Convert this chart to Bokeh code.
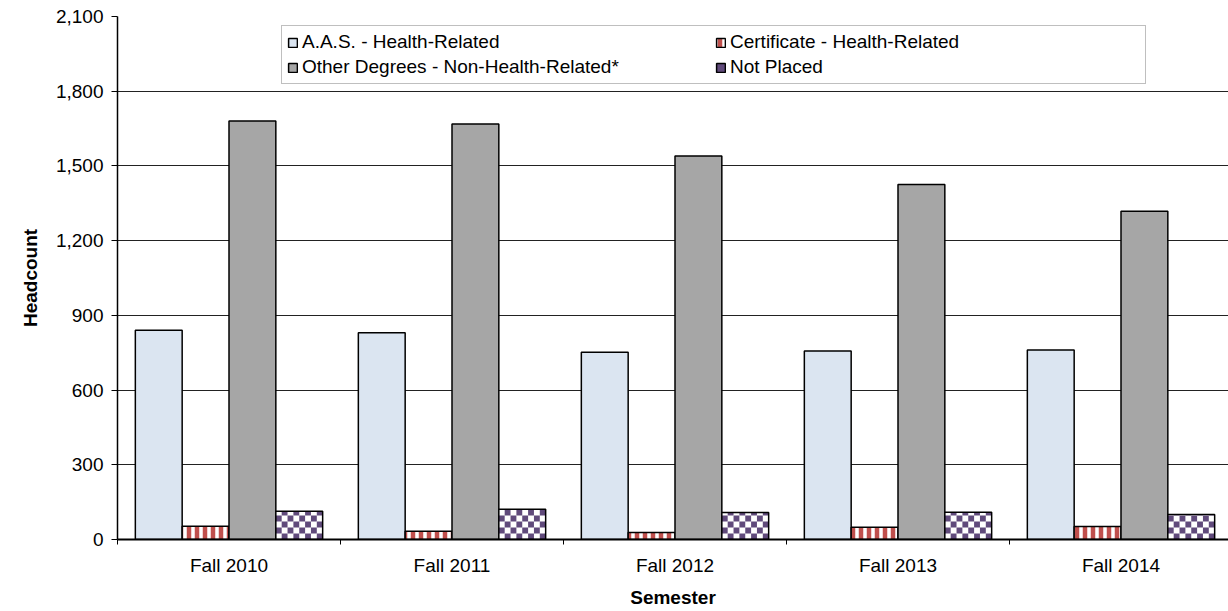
from bokeh.plotting import figure
from bokeh.models import (Range1d, FixedTicker, NumeralTickFormatter, Legend,
                          LegendItem, ColumnDataSource)
from bokeh.transform import dodge
from bokeh.embed import file_html
from bokeh.resources import INLINE

# ---- data ----
semesters = ["Fall 2010", "Fall 2011", "Fall 2012", "Fall 2013", "Fall 2014"]
aas_health = [840, 830, 752, 757, 761]
cert_health = [53, 33, 28, 49, 52]
other_non_health = [1680, 1668, 1540, 1425, 1318]
not_placed = [113, 121, 108, 109, 100]
y_ticks = [0, 300, 600, 900, 1200, 1500, 1800, 2100]
series_labels = ["A.A.S. - Health-Related", "Certificate - Health-Related",
                 "Other Degrees - Non-Health-Related*", "Not Placed"]

FONT = "Liberation Sans"
FS = "19px"

W, H = 1228, 611
LEFT, TOP, BOTTOM = 117, 16, 72
CAT_PX = 223
frame_w = W - LEFT
frame_h = H - TOP - BOTTOM
YMAX = 2100

centers = [i + 0.5 for i in range(len(semesters))]
src = ColumnDataSource(dict(x=centers, aas=aas_health, cert=cert_health,
                            other=other_non_health, np=not_placed))

p = figure(width=W, height=H, output_backend="svg", toolbar_location=None,
           x_range=Range1d(0, frame_w / CAT_PX), y_range=Range1d(0, YMAX),
           min_border_left=LEFT, min_border_right=0, min_border_top=TOP,
           min_border_bottom=BOTTOM)
p.outline_line_color = None
p.background_fill_color = "white"
p.border_fill_color = "white"

bw = 0.21

r1 = p.vbar(x=dodge("x", -1.5 * bw, range=p.x_range), top="aas", width=bw, source=src,
            fill_color="#DBE5F1", line_color="black", line_width=1.5)
r2 = p.vbar(x=dodge("x", -0.5 * bw, range=p.x_range), top="cert", width=bw, source=src,
            fill_color="white", line_color="black", line_width=1.5,
            hatch_pattern="vertical_line", hatch_color="#C0504D", hatch_scale=8,
            hatch_weight=4.5)
r3 = p.vbar(x=dodge("x", 0.5 * bw, range=p.x_range), top="other", width=bw, source=src,
            fill_color="#A6A6A6", line_color="black", line_width=1.5)

# "Not Placed": white bar with a purple checkerboard fill (cells of ~6 px)
r4 = p.vbar(x=dodge("x", 1.5 * bw, range=p.x_range), top="np", width=bw, source=src,
            fill_color="white", line_color=None)
ncell = 8
cx = bw / ncell
cy = 6 * YMAX / frame_h
ql, qr, qb, qt = [], [], [], []
for c, v in zip(centers, not_placed):
    x0 = c + 1.5 * bw - bw / 2
    row = 0
    while row * cy < v:
        for k in range(ncell):
            if (k + row) % 2 == 1:
                ql.append(x0 + k * cx)
                qr.append(x0 + (k + 1) * cx)
                qb.append(row * cy)
                qt.append(min((row + 1) * cy, v))
        row += 1
r4q = p.quad(left=ql, right=qr, bottom=qb, top=qt, fill_color="#604A7B", line_color=None)
r4o = p.vbar(x=dodge("x", 1.5 * bw, range=p.x_range), top="np", width=bw, source=src,
             fill_color=None, line_color="black", line_width=1.5)

# axes
xa = p.xaxis[0]
xa.ticker = FixedTicker(ticks=centers, minor_ticks=list(range(len(semesters) + 1)))
xa.major_label_overrides = {c: s for c, s in zip(centers, semesters)}
xa.major_tick_line_color = None
xa.minor_tick_out = 5
xa.minor_tick_in = 0
xa.minor_tick_line_color = "black"
xa.axis_line_color = "black"
xa.axis_line_width = 2
xa.major_label_standoff = 9
xa.axis_label = "Semester"
xa.axis_label_standoff = 8

ya = p.yaxis[0]
ya.ticker = FixedTicker(ticks=y_ticks)
ya.formatter = NumeralTickFormatter(format="0,0")
ya.major_tick_out = 6
ya.major_tick_in = 0
ya.minor_tick_line_color = None
ya.major_tick_line_color = "black"
ya.axis_line_color = "black"
ya.axis_line_width = 1.5
ya.major_label_standoff = 8
ya.axis_label = "Headcount"
ya.axis_label_standoff = 12

for ax in (xa, ya):
    ax.major_label_text_font = FONT
    ax.major_label_text_font_size = FS
    ax.major_label_text_color = "black"
    ax.axis_label_text_font = FONT
    ax.axis_label_text_font_size = FS
    ax.axis_label_text_font_style = "bold"
    ax.axis_label_text_color = "black"

p.xgrid.grid_line_color = None
p.ygrid.ticker = FixedTicker(ticks=y_ticks)
p.ygrid.grid_line_color = "#222222"
p.ygrid.grid_line_width = 1

# legend items ordered column-wise so rows read: A.A.S. | Certificate, Other | Not Placed
items = [LegendItem(label=series_labels[0], renderers=[r1]),
         LegendItem(label=series_labels[2], renderers=[r3]),
         LegendItem(label=series_labels[1], renderers=[r2]),
         LegendItem(label=series_labels[3], renderers=[r4q, r4o])]
legend = Legend(items=items, ncols=2, location=(164, 455),
                label_text_font=FONT, label_text_font_size=FS,
                label_text_color="black", glyph_width=11, glyph_height=11,
                label_standoff=4, padding=5, spacing=3, label_width=410,
                border_line_color="#808080", border_line_width=1.5,
                background_fill_color="white", background_fill_alpha=1)
p.add_layout(legend, "center")

open("out.html", "w").write(file_html(p, INLINE))
